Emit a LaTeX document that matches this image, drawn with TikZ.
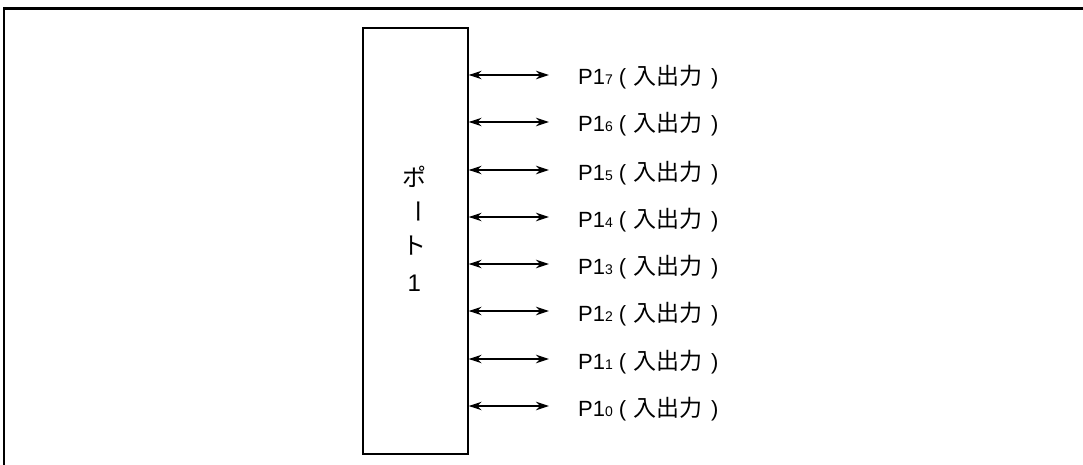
\documentclass[tikz,border=0pt]{standalone}
\usepackage{fontspec}
\setmainfont{Liberation Sans}
\newfontfamily\jp{Noto Sans CJK JP}
\usetikzlibrary{arrows.meta}
\tikzset{
  portbox/.style={draw, line width=2pt, inner sep=0pt, minimum width=105pt, minimum height=426.3pt, anchor=north west},
  bidir/.style={line width=1.2pt, {Stealth[length=13pt,width=8.5pt]}-{Stealth[length=13pt,width=8.5pt]}},
  pinlabel/.style={anchor=base west, inner sep=0pt, font=\fontsize{22}{24}\selectfont},
  boxchar/.style={inner sep=0pt, font=\jp\fontsize{24}{26}\selectfont},
}
\newcommand{\pinlbl}[1]{P1{\fontsize{14}{14}\selectfont #1}\kern6pt(\kern7pt{\jp\fontsize{23}{25}\selectfont 入出力}\kern9pt)}
\begin{document}
\begin{tikzpicture}[x=1pt,y=-1pt]
\useasboundingbox (0,0) rectangle (1083,465);
% frame
\draw[line width=3pt] (3.4,9) -- (1083,9);
\draw[line width=1.5pt] (4,8) -- (4,465);
% port box
\node[portbox] (port) at (361.7,26.7) {};
\node[boxchar] (c1) at (414.2,176.5) {ポ};
\node[boxchar, rotate=-90] (c2) at (414.2,212) {ー};
\node[boxchar] (c3) at (414.2,246) {ト};
\node[inner sep=0pt, font=\fontsize{24}{26}\selectfont] (c4) at (414.2,283) {1};
% pins
\foreach \i/\y in {7/75, 6/122, 5/170, 4/217, 3/264, 2/311, 1/359, 0/406}{
  \coordinate (a\i) at (549,\y);
  \node[pinlabel] (l\i) at (578,\y+10) {\pinlbl{\i}};
  \draw[bidir] (port.east |- a\i) -- (a\i);
}
\end{tikzpicture}
\end{document}
